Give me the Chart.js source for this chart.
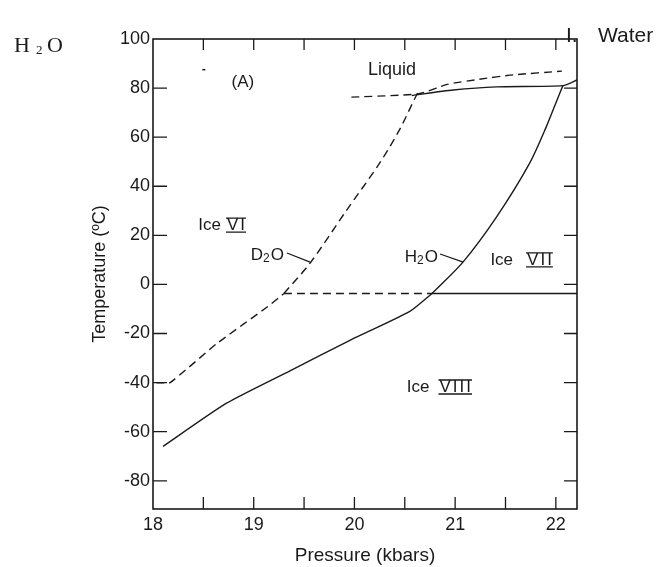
<!DOCTYPE html>
<html>
<head>
<meta charset="utf-8">
<script src="https://cdn.jsdelivr.net/npm/chart.js@4.4.1/dist/chart.umd.min.js"></script>
<style>
  html, body { margin: 0; padding: 0; background: #fff; }
</style>
</head>
<body>
<canvas id="phaseChart" width="665" height="567"></canvas>
<script>
// pressure (kbar), temperature (degC)
const h2oVI_VIII = [[18.10, -66], [18.73, -48.4], [19.36, -35.2], [19.96, -22.7], [20.55, -11], [20.77, -3.7]];
const h2oVI_VII = [[20.77, -3.7], [21.08, 9.2], [21.41, 27.4], [21.74, 49.4], [21.91, 64.7], [22.02, 76], [22.07, 81]];
const h2oMelt = [[20.57, 77], [20.98, 79.2], [21.41, 80.5], [22.07, 81], [22.21, 83.3]];
const h2oVII_VIII = [[20.77, -3.7], [22.21, -3.7]];
const d2oVI_VIII = [[18.03, -40], [18.17, -40], [18.63, -24.2], [19.16, -8.4], [19.30, -3.7]];
const d2oVI_VII = [[19.30, -3.7], [19.56, 8.7], [19.92, 30.1], [20.25, 49.4], [20.45, 63.2], [20.62, 77.4], [20.64, 78]];
const d2oVII_VIII = [[19.30, -3.7], [20.77, -3.7]];
const d2oMelt = [[19.97, 76.3], [20.64, 77.7], [20.92, 81.5], [21.24, 83.6], [21.58, 85.4], [22.06, 86.9]];

const pressureTicks = [18, 19, 20, 21, 22];
const tempTicks = [-80, -60, -40, -20, 0, 20, 40, 60, 80, 100];

const ink = '#1a1a1a';
const sans = '"Liberation Sans", Arial, sans-serif';

function pts(arr) {
  return arr.map(p => ({ x: p[0], y: p[1] }));
}

function line(arr, dashed, tension) {
  return {
    data: pts(arr),
    showLine: true,
    borderColor: ink,
    borderWidth: 1.4,
    borderDash: dashed ? [8, 5] : [],
    pointRadius: 0,
    tension: tension || 0,
    fill: false
  };
}

// text with a lowered small "2"
function formula(ctx, parts, x, y, size) {
  let cx = x;
  parts.forEach(p => {
    const sub = p === '2';
    ctx.font = (sub ? Math.round(size * 0.7) : size) + 'px ' + sans;
    ctx.fillText(p, cx, sub ? y + size * 0.2 : y);
    cx += ctx.measureText(p).width + (sub ? 1 : 0);
  });
  return cx;
}

// "Ice" followed by a roman numeral with bars above and below
function iceLabel(ctx, numeral, x, y, gap) {
  ctx.font = '17px ' + sans;
  ctx.fillText('Ice', x, y);
  let nx = x + ctx.measureText('Ice').width + gap;
  const start = nx;
  for (const ch of numeral) {
    ctx.fillText(ch, nx, y);
    nx += ctx.measureText(ch).width + 2;
  }
  ctx.lineWidth = 1.3;
  ctx.beginPath();
  ctx.moveTo(start - 1, y - 7); ctx.lineTo(nx - 1, y - 7);
  ctx.moveTo(start - 1, y + 7); ctx.lineTo(nx - 1, y + 7);
  ctx.stroke();
}

const frame = {
  id: 'frame',
  afterDatasetsDraw(chart) {
    const { ctx, chartArea: a, scales: { x, y } } = chart;
    ctx.save();
    ctx.strokeStyle = ink;
    ctx.fillStyle = ink;
    ctx.lineWidth = 1.6;
    ctx.strokeRect(a.left, a.top, a.right - a.left, a.bottom - a.top);

    // inward ticks on all four sides
    ctx.lineWidth = 1.3;
    ctx.beginPath();
    x.ticks.forEach(t => {
      if (t.value <= x.min || t.value >= x.max) return;
      const px = x.getPixelForValue(t.value);
      ctx.moveTo(px, a.bottom); ctx.lineTo(px, a.bottom - 12);
      ctx.moveTo(px, a.top); ctx.lineTo(px, a.top + 11);
    });
    y.ticks.forEach(t => {
      if (t.value <= y.min || t.value >= y.max) return;
      const py = y.getPixelForValue(t.value);
      ctx.moveTo(a.left, py); ctx.lineTo(a.left + 14, py);
      ctx.moveTo(a.right, py); ctx.lineTo(a.right - 13, py);
    });
    ctx.stroke();

    const X = v => x.getPixelForValue(v);
    const Y = v => y.getPixelForValue(v);

    ctx.textAlign = 'left';
    ctx.textBaseline = 'middle';
    ctx.font = '18px ' + sans;
    ctx.fillText('Liquid', X(20.135), Y(87.4));
    ctx.font = '17px ' + sans;
    ctx.fillText('(A)', X(18.78), Y(82.5));
    ctx.fillRect(X(18.49), Y(87.8), 3, 1.5);

    iceLabel(ctx, 'VI', X(18.45), Y(24.2), 6);
    iceLabel(ctx, 'VII', X(21.35), Y(10.0), 14);
    iceLabel(ctx, 'VIII', X(20.52), Y(-41.8), 10);

    formula(ctx, ['D', '2', 'O'], X(18.97), Y(12.0), 17);
    formula(ctx, ['H', '2', 'O'], X(20.50), Y(11.2), 17);
    ctx.lineWidth = 1.2;
    ctx.beginPath();
    ctx.moveTo(X(19.33), Y(12.8)); ctx.lineTo(X(19.56), Y(9.1));
    ctx.moveTo(X(20.85), Y(12.4)); ctx.lineTo(X(21.08), Y(9.1));
    ctx.stroke();

    // page headings outside the plot
    ctx.font = '22px "Liberation Serif", serif';
    ctx.fillText('H', 14, 46);
    ctx.font = '13px "Liberation Serif", serif';
    ctx.fillText('2', 36, 51);
    ctx.font = '22px "Liberation Serif", serif';
    ctx.fillText('O', 47, 46);
    ctx.font = '21px ' + sans;
    ctx.fillText('I.', 566, 36);
    ctx.fillText('Water', 598, 36);
    ctx.restore();
  }
};

const ctx = document.getElementById('phaseChart').getContext('2d');
const phaseChart = new Chart(ctx, {
  type: 'scatter',
  data: {
    datasets: [
      line(h2oVI_VIII, false, 0.2),
      line(h2oVI_VII, false, 0.3),
      line(h2oMelt, false, 0.2),
      line(h2oVII_VIII, false),
      line(d2oVI_VIII, true, 0.1),
      line(d2oVI_VII, true, 0.3),
      line(d2oVII_VIII, true),
      line(d2oMelt, true, 0.2)
    ]
  },
  options: {
    responsive: false,
    animation: false,
    layout: { padding: { top: 39, right: 88, bottom: 0, left: 0 } },
    plugins: {
      legend: { display: false },
      tooltip: { enabled: false }
    },
    scales: {
      x: {
        type: 'linear',
        min: 18,
        max: 22.21,
        grid: { display: false, drawTicks: false },
        border: { display: false },
        ticks: {
          stepSize: 0.5,
          includeBounds: false,
          autoSkip: false,
          maxRotation: 0,
          padding: 5,
          color: ink,
          font: { family: sans, size: 18 },
          callback: v => pressureTicks.includes(v) ? String(v) : ''
        },
        title: {
          display: true,
          text: 'Pressure (kbars)',
          color: ink,
          font: { family: sans, size: 19 },
          padding: { top: 0, bottom: 0 }
        },
        afterFit: s => { s.height = 58; }
      },
      y: {
        type: 'linear',
        min: -91.5,
        max: 100,
        grid: { display: false, drawTicks: false },
        border: { display: false },
        ticks: {
          stepSize: 20,
          includeBounds: false,
          autoSkip: false,
          padding: 3,
          color: ink,
          font: { family: sans, size: 18 },
          callback: v => tempTicks.includes(v) ? String(v) : ''
        },
        title: {
          display: true,
          text: 'Temperature (ºC)',
          color: ink,
          font: { family: sans, size: 18 },
          padding: { top: 89, bottom: 0 }
        },
        afterFit: s => { s.width = 153; }
      }
    }
  },
  plugins: [frame]
});
</script>
</body>
</html>
